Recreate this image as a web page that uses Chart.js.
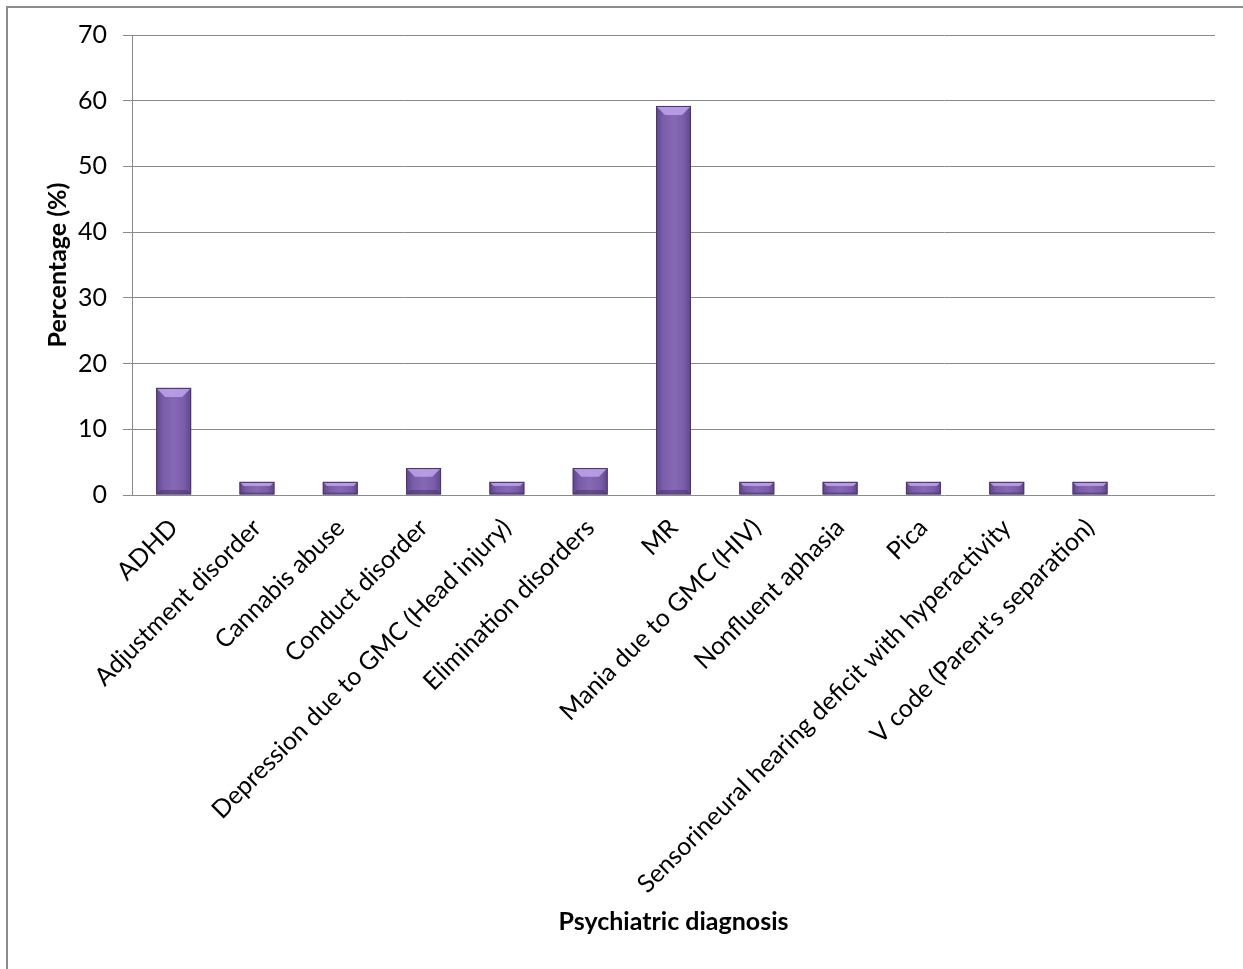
<!DOCTYPE html>
<html>
<head>
<meta charset="utf-8">
<script src="https://cdn.jsdelivr.net/npm/chart.js@4"></script>
<style>
    body { margin: 0; background: #fff; }
    #frame { position: absolute; left: 6px; top: 6px; width: 1300px; height: 1000px;
             border-top: 2px solid #8c8c8c; border-left: 2px solid #8c8c8c; box-sizing: border-box; }
    #myChart { position: absolute; left: 0; top: 0; }
</style>
</head>
<body>
<div id="frame"></div>
<canvas id="myChart" width="1243" height="969"></canvas>
<script>
// data
var diagnoses = [
    "ADHD",
    "Adjustment disorder",
    "Cannabis abuse",
    "Conduct disorder",
    "Depression due to GMC (Head injury)",
    "Elimination disorders",
    "MR",
    "Mania due to GMC (HIV)",
    "Nonfluent aphasia",
    "Pica",
    "Sensorineural hearing deficit with hyperactivity",
    "V code (Parent's separation)",
    ""
];
var percentages = [16.3, 2.0, 2.0, 4.1, 2.0, 4.1, 59.2, 2.0, 2.0, 2.0, 2.0, 2.0, null];
var yTicks = [0, 10, 20, 30, 40, 50, 60, 70];

const FONT = "Lato, 'Open Sans', sans-serif";

// shading + bevel drawn over each bar the library placed
const bevel = {
    id: 'bevel',
    afterDatasetsDraw(chart) {
        const ctx = chart.ctx;
        const vals = chart.data.datasets[0].data;
        chart.getDatasetMeta(0).data.forEach(function(bar, i) {
            if (vals[i] == null) return;
            const p = bar.getProps(['x', 'y', 'base', 'width'], true);
            const l = p.x - p.width / 2, r = p.x + p.width / 2;
            const h = p.base - p.y;
            const d = Math.min(9, h / 3);
            ctx.save();
            const g = ctx.createLinearGradient(l, 0, r, 0);
            g.addColorStop(0, '#5e4589');
            g.addColorStop(0.2, '#7a5da9');
            g.addColorStop(0.5, '#8668b5');
            g.addColorStop(0.8, '#7a5da9');
            g.addColorStop(1, '#5e4589');
            ctx.fillStyle = g;
            ctx.fillRect(l, p.y, p.width, h);
            ctx.fillStyle = 'rgba(190,165,235,0.85)';
            ctx.beginPath();
            ctx.moveTo(l + 1, p.y + 1); ctx.lineTo(r - 1, p.y + 1);
            ctx.lineTo(r - d, p.y + d); ctx.lineTo(l + d, p.y + d);
            ctx.closePath(); ctx.fill();
            ctx.fillStyle = 'rgba(60,40,95,0.45)';
            ctx.beginPath();
            ctx.moveTo(l + 1, p.base - 1); ctx.lineTo(r - 1, p.base - 1);
            ctx.lineTo(r - d / 2, p.base - d / 2); ctx.lineTo(l + d / 2, p.base - d / 2);
            ctx.closePath(); ctx.fill();
            ctx.strokeStyle = '#4a3672';
            ctx.lineWidth = 1;
            ctx.strokeRect(l + 0.5, p.y + 0.5, p.width - 1, h - 1);
            ctx.restore();
        });
    }
};

const ctx = document.getElementById('myChart').getContext('2d');
const myChart = new Chart(ctx, {
    type: 'bar',
    data: {
        labels: diagnoses,
        datasets: [{
            data: percentages,
            backgroundColor: 'rgba(0,0,0,0)',
            borderWidth: 0,
            categoryPercentage: 1,
            barPercentage: 0.42
        }]
    },
    plugins: [bevel],
    options: {
        responsive: false,
        animation: false,
        layout: { padding: { left: 30, top: 35, right: 28, bottom: 20 } },
        plugins: {
            legend: { display: false },
            tooltip: { enabled: false }
        },
        scales: {
            x: {
                grid: { display: false, drawTicks: false },
                border: { display: false },
                ticks: {
                    color: '#000',
                    font: { family: FONT, size: 25 },
                    minRotation: 45,
                    maxRotation: 45,
                    autoSkip: false,
                    padding: 18
                },
                title: {
                    display: true,
                    text: 'Psychiatric diagnosis',
                    color: '#000',
                    font: { family: FONT, size: 25, weight: 'bold' },
                    padding: { top: 0, bottom: 12 }
                },
                afterFit: function(scale) { scale.height = 969 - 20 - 495; }
            },
            y: {
                min: 0,
                max: 70,
                afterBuildTicks: function(scale) {
                    scale.ticks = yTicks.map(function(v) { return { value: v }; });
                },
                grid: { color: '#8a8a8a', lineWidth: 1, tickLength: 9 },
                border: { display: true, color: '#8a8a8a' },
                ticks: {
                    color: '#000',
                    font: { family: FONT, size: 25 },
                    padding: 16
                },
                title: {
                    display: true,
                    text: 'Percentage (%)',
                    color: '#000',
                    font: { family: FONT, size: 25, weight: 'bold' },
                    padding: { top: 13, bottom: 0 }
                },
                afterFit: function(scale) { scale.width = 132 - 30; }
            }
        }
    }
});
</script>
</body>
</html>
